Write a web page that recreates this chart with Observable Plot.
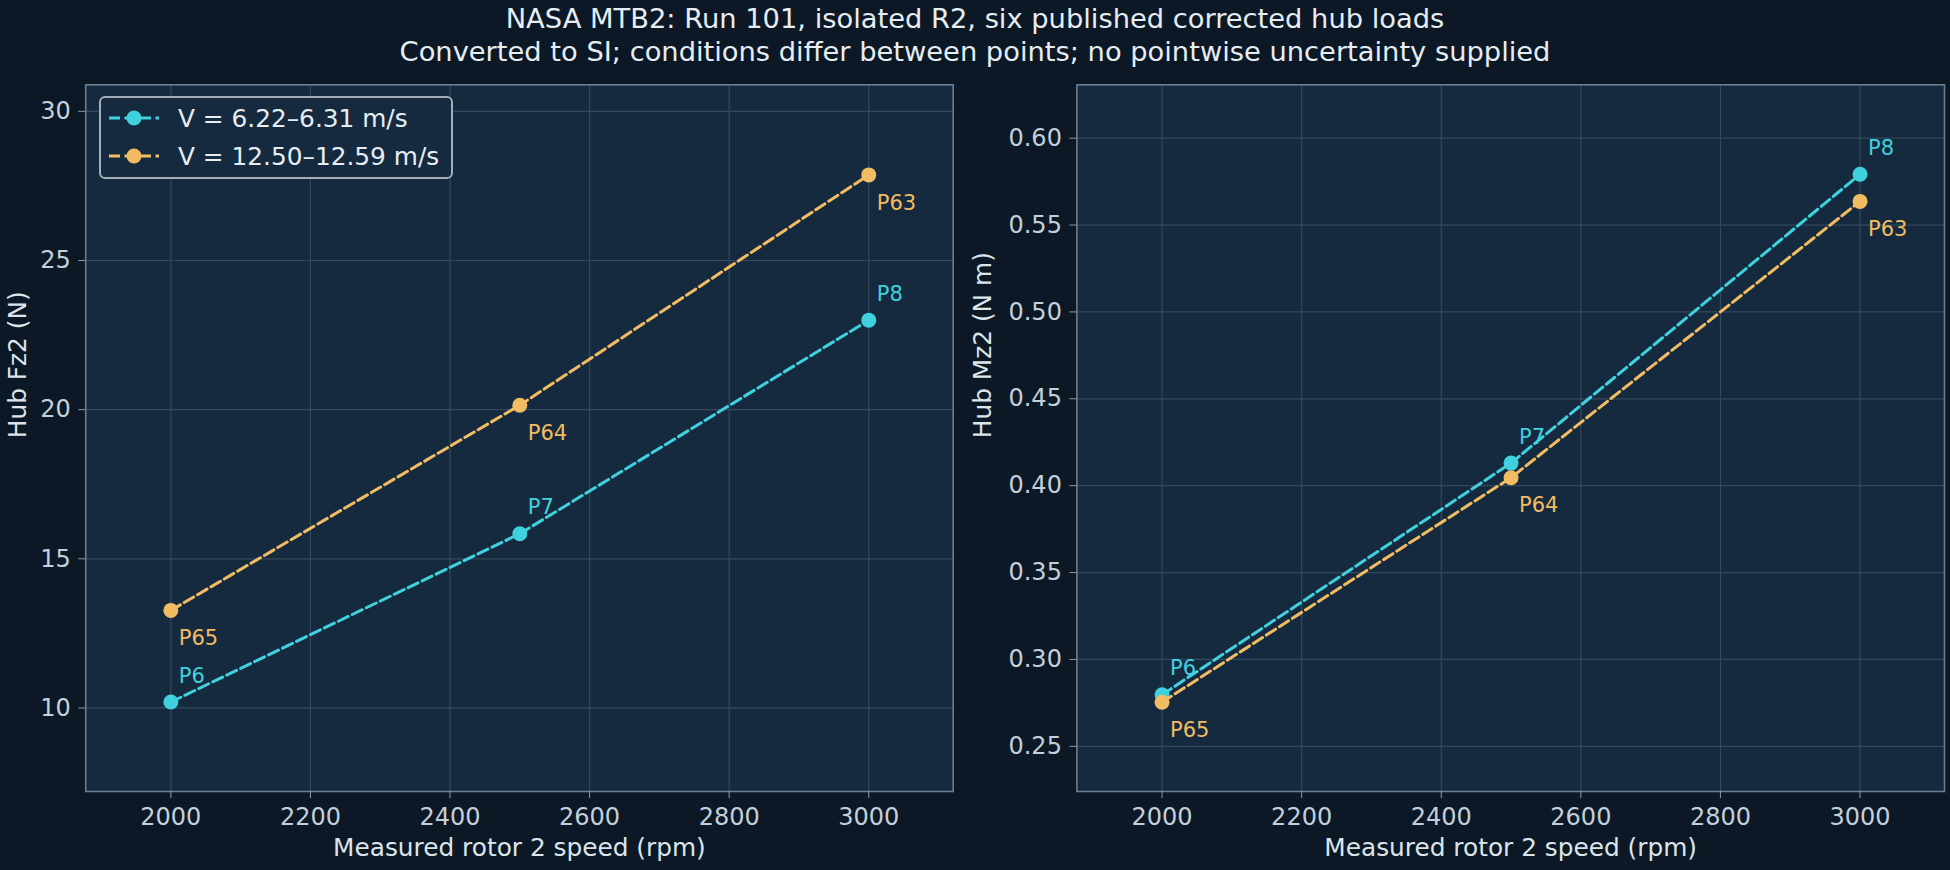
<!DOCTYPE html>
<html>
<head>
<meta charset="utf-8">
<script src="https://cdn.jsdelivr.net/npm/d3@7"></script>
<script src="https://cdn.jsdelivr.net/npm/@observablehq/plot@0.6"></script>
<style>
  html, body { margin: 0; padding: 0; background: #0c1825; }
  body { width: 1950px; height: 870px; position: relative; overflow: hidden; font-family: "DejaVu Sans", sans-serif; }
  .title { position: absolute; left: 0; width: 1950px; text-align: center; color: #e6edf3; font-size: 27.3px; white-space: nowrap; }
  .panel { position: absolute; top: 70px; }
  .legend { position: absolute; left: 99px; top: 96px; width: 354px; height: 83px; border: 2px solid #a3adb8; border-radius: 6px; background: #152a3f; box-sizing: border-box; }
  .legend .row { position: absolute; left: 0; height: 30px; display: flex; align-items: center; }
  .legend .row span { color: #e6edf3; font-size: 24.8px; position: absolute; left: 77px; white-space: nowrap; }
</style>
</head>
<body>
<div class="title" id="t1" style="top:3px">NASA MTB2: Run 101, isolated R2, six published corrected hub loads</div>
<div class="title" id="t2" style="top:36px">Converted to SI; conditions differ between points; no pointwise uncertainty supplied</div>
<div class="panel" id="left" style="left:0px"></div>
<div class="panel" id="right" style="left:975px"></div>
<div class="legend" id="legend"></div>
<script>
// ---- data ----
const rpm = [2000, 2500, 3000];
const lowLabels = ["P6", "P7", "P8"];
const highLabels = ["P65", "P64", "P63"];
const fzLow = [10.2, 15.84, 23.0];
const fzHigh = [13.27, 20.15, 27.87];
const mzLow = [0.2797, 0.413, 0.5792];
const mzHigh = [0.2754, 0.4046, 0.5636];
const seriesNames = ["V = 6.22–6.31 m/s", "V = 12.50–12.59 m/s"];
const xTicks = [2000, 2200, 2400, 2600, 2800, 3000];
const fzTicks = [10, 15, 20, 25, 30];
const mzTicks = [0.25, 0.30, 0.35, 0.40, 0.45, 0.50, 0.55, 0.60];
const xLabel = "Measured rotor 2 speed (rpm)";
const fzLabel = "Hub Fz2 (N)";
const mzLabel = "Hub Mz2 (N m)";

const cyan = "#40d1df";
const orange = "#f2bc62";

function rows(values, labels) {
  return rpm.map((x, i) => ({x, y: values[i], label: labels[i]}));
}

function panel({low, high, yDomain, yTicks, yLabel, tickFormat, marginLeft, marginRight, yLabelDx}) {
  const lowData = rows(low, lowLabels);
  const highData = rows(high, highLabels);
  return Plot.plot({
    width: 975,
    height: 800,
    marginTop: 14.3,
    marginBottom: 79,
    marginLeft,
    marginRight,
    x: {domain: [1878, 3121]},
    y: {domain: yDomain},
    style: {background: "transparent", fontFamily: "DejaVu Sans", fontSize: "24px", color: "#c3cfda", overflow: "visible"},
    marks: [
      Plot.frame({fill: "#152a3f", stroke: null}),
      Plot.gridX(xTicks, {stroke: "#34495d", strokeOpacity: 1, strokeWidth: 1.2}),
      Plot.gridY(yTicks, {stroke: "#34495d", strokeOpacity: 1, strokeWidth: 1.2}),
      Plot.frame({stroke: "#6a7e93", strokeWidth: 1.6}),
      Plot.axisX(xTicks, {tickSize: 7, tickPadding: 9, stroke: "#8b9aa9", fill: "#c3cfda", label: null, tickFormat: d => String(d)}),
      Plot.axisY(yTicks, {tickSize: 7, tickPadding: 8, stroke: "#8b9aa9", fill: "#c3cfda", label: null, tickFormat}),
      Plot.text([xLabel], {frameAnchor: "bottom", text: d => d, dy: 57, lineAnchor: "middle", fill: "#dde5ec", fontSize: 24.8}),
      Plot.text([yLabel], {frameAnchor: "left", text: d => d, dx: yLabelDx, rotate: -90, lineAnchor: "middle", fill: "#dde5ec", fontSize: 24.8}),
      Plot.line(lowData, {x: "x", y: "y", stroke: cyan, strokeWidth: 3, strokeDasharray: "11,4.5"}),
      Plot.dot(lowData, {x: "x", y: "y", r: 7.5, fill: cyan, stroke: null}),
      Plot.line(highData, {x: "x", y: "y", stroke: orange, strokeWidth: 3, strokeDasharray: "11,4.5"}),
      Plot.dot(highData, {x: "x", y: "y", r: 7.5, fill: orange, stroke: null}),
      Plot.text(lowData, {x: "x", y: "y", text: "label", dx: 8, dy: -26, textAnchor: "start", lineAnchor: "middle", fill: cyan, fontSize: 21}),
      Plot.text(highData, {x: "x", y: "y", text: "label", dx: 8, dy: 28, textAnchor: "start", lineAnchor: "middle", fill: orange, fontSize: 21})
    ]
  });
}

document.getElementById("left").append(panel({
  low: fzLow, high: fzHigh, yDomain: [7.2, 30.89], yTicks: fzTicks, yLabel: fzLabel,
  tickFormat: d => String(d), marginLeft: 85.2, marginRight: 22.3, yLabelDx: -68
}));
document.getElementById("right").append(panel({
  low: mzLow, high: mzHigh, yDomain: [0.224, 0.6307], yTicks: mzTicks, yLabel: mzLabel,
  tickFormat: d => d.toFixed(2), marginLeft: 101.4, marginRight: 6, yLabelDx: -93.4
}));

// legend
const legend = document.getElementById("legend");
[cyan, orange].forEach((c, i) => {
  const row = document.createElement("div");
  row.className = "row";
  row.style.top = (i === 0 ? 5 : 43) + "px";
  row.style.width = "350px";
  row.innerHTML = `<svg width="70" height="30" style="position:absolute;left:8px;top:0">
      <line x1="0" x2="50" y1="15" y2="15" stroke="${c}" stroke-width="3" stroke-dasharray="11,4.5"/>
      <circle cx="25" cy="15" r="7.5" fill="${c}"/></svg>
      <span>${seriesNames[i]}</span>`;
  legend.append(row);
});
</script>
</body>
</html>
